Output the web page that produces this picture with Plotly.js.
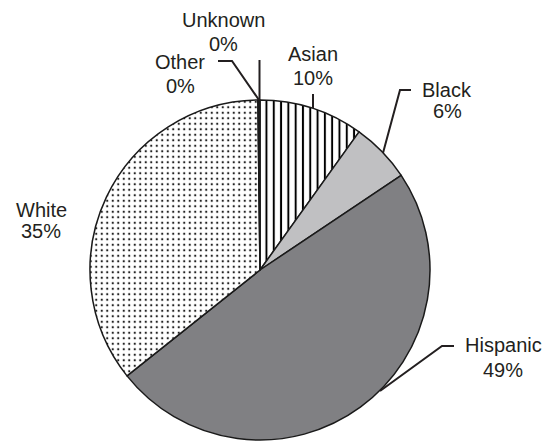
<!DOCTYPE html>
<html>
<head>
<meta charset="utf-8">
<script src="https://cdn.plot.ly/plotly-3.0.1.min.js"></script>
<style>html,body{margin:0;padding:0;background:#fff;}#chart{width:548px;height:441px;}</style>
</head>
<body>
<div id="chart"></div>
<script>
// ---- data ----
const categories = ['Asian', 'Black', 'Hispanic', 'White', 'Other', 'Unknown'];
const shares = [9.9, 5.7, 48.7, 35.5, 0.1, 0.1];          // slice sizes (%)
const pctLabels = ['10%', '6%', '49%', '35%', '0%', '0%']; // printed labels

// ---- styling ----
const fillColors = ['#000000', '#c0c0c2', '#808083', '#222222', '#111111', '#111111'];
const patternShapes = ['|', '', '', '.', '', ''];
const W = 548, H = 441;
const px = x => x / W, py = y => 1 - y / H;

// label placement (pixel centres of name line / percent line)
const labelPos = {
  Asian:    [313, 54, 313, 78],
  Black:    [447, 90, 447, 111],
  Hispanic: [503, 345, 503, 370],
  White:    [41, 210, 41, 231],
  Other:    [180, 62, 180, 86],
  Unknown:  [223, 20, 223, 44]
};
// leader polylines (pixels)
const leaders = [
  [[313, 94], [313, 108]],
  [[411, 90], [400, 90], [383, 153]],
  [[454, 346], [442, 346], [380, 391]],
  [[259.5, 60], [259.5, 100]],
  [[218, 61], [232, 61], [259, 100]]
];

const txtColor = '#231f20';
const font = {family: 'Liberation Sans, Arial, sans-serif', size: 20, color: txtColor};

const annotations = [];
const order = ['Asian', 'Black', 'Hispanic', 'White', 'Other', 'Unknown'];
order.forEach(name => {
  const i = categories.indexOf(name);
  const p = labelPos[name];
  annotations.push({
    xref: 'paper', yref: 'paper', x: px(p[0]), y: py(p[1]),
    xanchor: 'center', yanchor: 'middle', showarrow: false,
    text: categories[i], font: font, borderpad: 0
  });
  annotations.push({
    xref: 'paper', yref: 'paper', x: px(p[2]), y: py(p[3]),
    xanchor: 'center', yanchor: 'middle', showarrow: false,
    text: pctLabels[i], font: font, borderpad: 0
  });
});

const shapes = leaders.map(pts => ({
  type: 'path', xref: 'paper', yref: 'paper',
  path: pts.map((q, k) => (k ? 'L' : 'M') + px(q[0]) + ',' + py(q[1])).join(' '),
  line: {color: txtColor, width: 2}
}));

const trace = {
  type: 'pie',
  labels: categories,
  values: shares,
  sort: false,
  direction: 'clockwise',
  rotation: 0,
  textinfo: 'none',
  hoverinfo: 'none',
  showlegend: false,
  domain: {x: [px(90), px(430)], y: [py(440), py(100)]},
  marker: {
    colors: fillColors,
    line: {color: '#1a1a1a', width: 1.5},
    pattern: {
      shape: patternShapes,
      bgcolor: '#ffffff',
      size: [7.3, 6, 6, 5.5, 6, 6],
      solidity: [0.27, 0.1, 0.1, 0.13, 0.1, 0.1],
      fillmode: 'replace'
    }
  }
};

const layout = {
  width: W, height: H,
  margin: {l: 0, r: 0, t: 0, b: 0},
  paper_bgcolor: '#ffffff',
  showlegend: false,
  annotations: annotations,
  shapes: shapes
};

Plotly.newPlot('chart', [trace], layout, {displayModeBar: false, staticPlot: true});
</script>
</body>
</html>
